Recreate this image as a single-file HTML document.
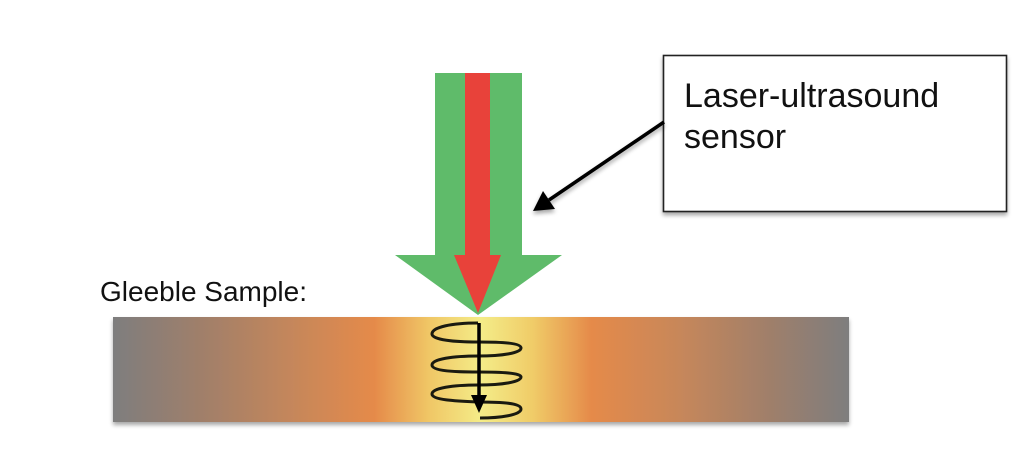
<!DOCTYPE html>
<html>
<head>
<meta charset="utf-8">
<style>
  html,body{margin:0;padding:0;background:#fff;}
  svg{display:block;}
  text{font-family:"Liberation Sans", Arial, sans-serif;fill:#111;}
</style>
</head>
<body>
<svg width="1024" height="471" viewBox="0 0 1024 471" xmlns="http://www.w3.org/2000/svg">
  <defs>
    <linearGradient id="bar" x1="113" y1="0" x2="849" y2="0" gradientUnits="userSpaceOnUse">
      <stop offset="0" stop-color="#7e7e7e"/>
      <stop offset="0.12" stop-color="#a07f6a"/>
      <stop offset="0.25" stop-color="#c7875a"/>
      <stop offset="0.355" stop-color="#e58a4a"/>
      <stop offset="0.43" stop-color="#f0c766"/>
      <stop offset="0.5" stop-color="#f4ec88"/>
      <stop offset="0.57" stop-color="#f0cc68"/>
      <stop offset="0.65" stop-color="#e58a4a"/>
      <stop offset="0.77" stop-color="#c7875a"/>
      <stop offset="0.89" stop-color="#a07f6a"/>
      <stop offset="1" stop-color="#7e7e7e"/>
    </linearGradient>
    <filter id="sh" x="-5%" y="-10%" width="110%" height="130%">
      <feGaussianBlur in="SourceAlpha" stdDeviation="2"/>
      <feOffset dx="0" dy="3"/>
      <feComponentTransfer><feFuncA type="linear" slope="0.35"/></feComponentTransfer>
      <feMerge><feMergeNode/><feMergeNode in="SourceGraphic"/></feMerge>
    </filter>
  </defs>

  <rect width="1024" height="471" fill="#fff"/>

  <!-- Gleeble sample bar -->
  <rect x="113" y="317" width="736" height="105" fill="url(#bar)" filter="url(#sh)"/>

  <text x="100" y="301" font-size="28">Gleeble Sample:</text>

  <!-- Green arrow -->
  <polygon points="435,73 522,73 522,255 562,255 478,315 395,255 435,255" fill="#5fbb6a"/>
  <!-- Red arrow -->
  <polygon points="465,73 490,73 490,255 501,255 478,313 454,255 465,255" fill="#e8423a"/>

  <!-- Spiral -->
  <path d="M478,323
           C452,323 432,327 432,334
           C432,340 455,342 478,342
           C502,342 521,343 521,348
           C521,353 502,356 478,356
           C453,356 432,359 432,365
           C432,371 455,372 478,372
           C502,372 521,373 521,377
           C521,382 502,385 478,385
           C453,385 432,388 432,394
           C432,400 455,401 478,402
           C502,402 521,403 521,409
           C521,415 500,418 480,418"
        fill="none" stroke="#1a1a10" stroke-width="3"/>
  <line x1="479" y1="323" x2="479" y2="398" stroke="#000" stroke-width="3.5"/>
  <polygon points="471,395 487,395 479,413" fill="#000"/>

  <!-- Callout box -->
  <rect x="663.5" y="55.5" width="343" height="156" fill="#fff" stroke="#222" stroke-width="1.6" filter="url(#sh)"/>
  <text x="684" y="107" font-size="34">Laser-ultrasound</text>
  <text x="684" y="148" font-size="34">sensor</text>

  <!-- Callout arrow -->
  <g filter="url(#sh)">
    <line x1="664" y1="122" x2="549" y2="200" stroke="#000" stroke-width="3.5"/>
    <polygon points="533,211 543,191 555,209" fill="#000"/>
  </g>
</svg>
</body>
</html>
